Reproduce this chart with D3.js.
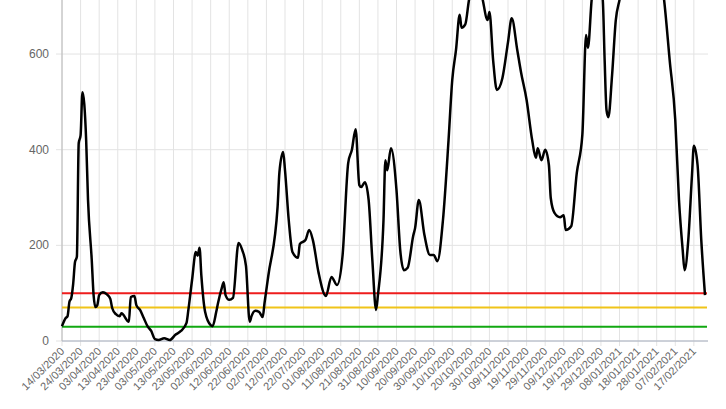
<!DOCTYPE html>
<html><head><meta charset="utf-8">
<script src="https://cdn.jsdelivr.net/npm/d3@7"></script>
<style>body{margin:0;background:#fff}svg{display:block}</style>
</head><body><svg id="c" width="726" height="409"></svg>
<script>
const startDate = "2020-03-14";
const dayOffsets = [0,2,3,4,5,6,7,8,9,10,11,13,14,16,17,18,19,20,22,24,26,27,29,31,32,36,37,39,40,42,44,46,48,50,52,55,58,61,64,67,68,70,72,73,74,75,77,80,81,83,84,86,87,88,90,92,95,97,99,101,102,104,106,108,109,111,116,117,119,120,122,124,127,128,131,133,135,138,142,145,148,151,154,156,158,160,161,163,165,167,169,170,173,174,175,177,180,182,184,186,189,190,192,195,198,200,202,205,208,210,212,214,215,217,219,222,226,229,230,232,234,237,240,242,245,247,250,253,255,256,258,260,262,263,265,268,270,271,274,277,280,282,283,285,288,291,292,293,294,296,298,300,305,312,318,324,327,330,332,334,335,337,339,340,342,344,346];
const values = [31,48,52,82,90,119,165,176,414,430,520,420,295,170,96,71,75,96,102,98,88,69,56,52,58,40,92,94,75,65,48,31,21,4,2,6,2,13,21,38,65,128,186,178,195,136,61,33,31,61,80,111,123,96,86,90,205,190,157,40,52,63,61,50,80,136,280,353,395,357,253,186,174,203,211,232,211,144,94,134,117,180,372,400,443,326,322,332,295,169,65,96,253,378,357,403,315,190,148,153,220,236,295,222,180,180,167,253,420,546,608,682,655,662,713,760,720,671,688,587,525,550,625,675,608,562,504,420,383,403,378,400,368,299,268,259,263,232,240,351,431,640,613,713,790,713,587,483,468,556,671,713,800,850,820,713,587,462,295,190,148,211,347,408,368,211,96];
const yTicks = [0,200,400,600];
const thresholds = [{v:100,c:"#ee1c1c"},{v:70,c:"#f0c419"},{v:30,c:"#11a811"}];

const svg = d3.select("#c");
const parse = d3.timeParse("%Y-%m-%d");
const t0 = parse(startDate);
const dates = dayOffsets.map(d => d3.timeDay.offset(t0, d));
const x = d3.scaleTime().domain([t0, d3.timeDay.offset(t0, 346)]).range([62,705]);
const y = d3.scaleLinear().domain([0,713]).range([341,0]);
const xTicks = d3.range(0,341,10).map(d=>d3.timeDay.offset(t0,d));

const g = svg.append("g");
g.selectAll(".vg").data(xTicks).join("line").attr("x1",d=>x(d)).attr("x2",d=>x(d)).attr("y1",0).attr("y2",346).attr("stroke","#e3e3e3");
g.selectAll(".hg").data(yTicks).join("line").attr("x1",56).attr("x2",708).attr("y1",d=>y(d)).attr("y2",d=>y(d)).attr("stroke","#e3e3e3");
g.append("line").attr("x1",62).attr("x2",62).attr("y1",0).attr("y2",341).attr("stroke","#b8b8b8");
g.append("line").attr("x1",62).attr("x2",708).attr("y1",341).attr("y2",341).attr("stroke","#a8b0c0");
g.selectAll(".yl").data(yTicks).join("text").attr("x",49).attr("y",d=>y(d)+4).attr("text-anchor","end")
 .attr("font-family","Arial, Liberation Sans, sans-serif").attr("font-size",12).attr("fill","#666").text(d=>d);
const fmt = d3.timeFormat("%d/%m/%Y");
g.selectAll(".xl").data(xTicks).join("text").attr("transform",d=>`translate(${x(d)+3},${352}) rotate(-45)`)
 .attr("text-anchor","end").attr("font-family","Arial, Liberation Sans, sans-serif").attr("font-size",11).attr("fill","#666").text(d=>fmt(d));
thresholds.forEach(t=>{
  g.append("line").attr("x1",62).attr("x2",707).attr("y1",y(t.v)).attr("y2",y(t.v)).attr("stroke",t.c).attr("stroke-width",2);
});
svg.append("clipPath").attr("id","cp").append("rect").attr("x",60).attr("y",0).attr("width",650).attr("height",345);
const line = d3.line().x((d,i)=>x(dates[i])).y(d=>y(d)).curve(d3.curveMonotoneX);
svg.append("path").attr("clip-path","url(#cp)").attr("d",line(values)).attr("fill","none").attr("stroke","#000").attr("stroke-width",2.5).attr("stroke-linejoin","round");
</script></body></html>
